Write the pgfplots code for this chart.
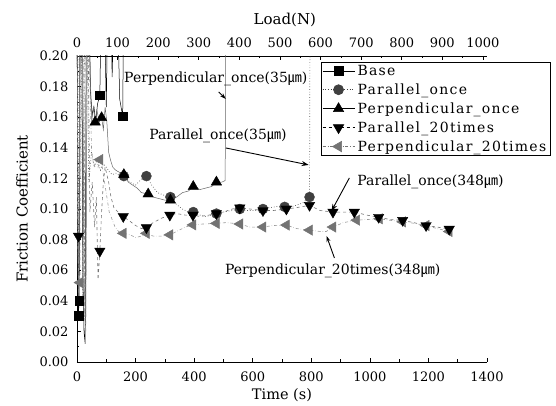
\documentclass[border=0pt]{standalone}
\usepackage{pgfplots}
\pgfplotsset{compat=1.18}
\usepackage{fontspec}
\setmainfont{DejaVu Serif}
\newfontfamily\cjk{Noto Sans CJK KR}
\newfontfamily\legfont[LetterSpace=9]{DejaVu Serif}
\usetikzlibrary{arrows.meta}
\newcommand{\um}{{\cjk ㎛}}
\newcommand{\fs}{\fontsize{14}{15}\selectfont}
\newcommand{\ts}{\fontsize{13}{14}\selectfont}

\pgfplotsset{
  lBase/.style={black, line width=0.5pt},
  lParO/.style={black!65, dotted, line width=0.7pt},
  lPerO/.style={black!60, line width=0.5pt},
  lPar20/.style={black!55, dashed, line width=0.6pt},
  lPer20/.style={black!40, dash dot, line width=0.6pt},
  mBase/.style={black, mark=square*, mark size=4.3pt, mark options={solid, fill=black}},
  mParO/.style={black!75, mark=*, mark size=5pt, mark options={solid, fill=black!75}},
  mPerO/.style={black, mark=triangle*, mark size=6pt, mark options={solid, fill=black}},
  mPar20/.style={black, mark=triangle*, mark size=6pt, mark options={solid, fill=black, rotate=180}},
  mPer20/.style={black!55, mark=triangle*, mark size=6pt, mark options={solid, fill=black!55, rotate=90}},
}

\begin{document}
\begin{tikzpicture}
\path[use as bounding box] (-77pt,-44pt) rectangle (479pt,362pt);
% top (Load) axis
\begin{axis}[
  at={(0,0)}, anchor=south west,
  scale only axis, width=410pt, height=306pt,
  xmin=0, xmax=1010, ymin=0, ymax=0.2,
  axis x line*=top, axis y line=none,
  xtick={0,100,...,1000}, minor x tick num=1,
  tick align=inside, major tick length=4pt, minor tick length=2.5pt,
  tick style={black, line width=0.6pt},
  axis line style={line width=0.8pt},
  tick label style={font=\ts},
  xticklabel style={yshift=5pt},
  /pgf/number format/assume math mode=true,
  /pgf/number format/1000 sep={},
  xlabel={Load(N)},
  xlabel style={font=\fontsize{15}{16}\selectfont, at={(axis description cs:0.507,1.118)}, anchor=center},
]
\end{axis}
\begin{axis}[
  at={(0,0)}, anchor=south west,
  scale only axis, width=410pt, height=306pt,
  xmin=0, xmax=1400, ymin=0, ymax=0.2,
  axis x line*=bottom, axis y line*=left,
  xtick={0,200,...,1400},
  ytick={0,0.02,0.04,0.06,0.08,0.1,0.12,0.14,0.16,0.18,0.2},
  minor x tick num=1, minor y tick num=1,
  tick align=inside, major tick length=4pt, minor tick length=2.5pt,
  tick style={black, line width=0.6pt},
  axis line style={line width=0.8pt},
  tick label style={font=\ts},
  xticklabel style={yshift=-6pt},
  /pgf/number format/assume math mode=true,
  /pgf/number format/1000 sep={},
  yticklabel style={xshift=-5pt, /pgf/number format/.cd, fixed, fixed zerofill, precision=2},
  xlabel={Time (s)}, ylabel={Friction Coefficient},
  label style={font=\fontsize{15}{16}\selectfont},
  xlabel style={font=\fontsize{14.5}{15}\selectfont, at={(axis description cs:0.5,-0.108)}, anchor=center},
  ylabel style={at={(axis description cs:-0.134,0.5)}, anchor=center},
  clip mode=individual,
  legend style={at={(axis description cs:0.595,0.981)}, anchor=north west,
    draw=black, line width=0.5pt, fill=white, font=\legfont\fontsize{14}{15}\selectfont,
    inner xsep=1pt, inner ysep=0.5pt, row sep=1.6pt, nodes={inner sep=2.6pt}},
  legend cell align=left,
  legend image code/.code={\draw[mark repeat=2,mark phase=2,#1] plot coordinates {(0pt,0pt)(16pt,0pt)(32pt,0pt)};},
]
% ---- lines ----
\addplot[lBase, forget plot] coordinates {(0,0.25)(3,0.049)(5,0.0304)(7,0.0402)(9,0.0882)(11,0.25)(16,0.25)(20,0.0588)(24,0.0196)(28,0.0118)(32,0.25)(40,0.25)(46,0.1764)(52,0.1617)(58,0.1666)(64,0.1568)(70,0.1686)(78,0.1744)(84,0.25)(92,0.25)(100,0.1666)(106,0.25)(114,0.25)(120,0.1862)(128,0.25)(136,0.25)(146,0.1715)(156,0.1607)(160,0.25)};
\addplot[lPerO, forget plot] coordinates {(0,0.25)(3,0.0686)(6,0.0392)(10,0.25)(18,0.25)(24,0.049)(30,0.0294)(36,0.25)(44,0.196)(50,0.1568)(56,0.1666)(62,0.1568)(68,0.1646)(76,0.1568)(84,0.1597)(90,0.1519)(96,0.1666)(102,0.1568)(108,0.1372)(114,0.1323)(122,0.1274)(132,0.1254)(140,0.1245)(150,0.1235)(160,0.1225)(175,0.1176)(190,0.1156)(205,0.1137)(220,0.1107)(243,0.1098)(260,0.1078)(280,0.1068)(300,0.1058)(319,0.1058)(340,0.1078)(360,0.1107)(380,0.1117)(397,0.1147)(420,0.1127)(440,0.1137)(460,0.1147)(476,0.1176)(495,0.1176)(506,0.1186)(508,0.25)};
\addplot[lParO, forget plot] coordinates {(0,0.25)(4,0.0588)(8,0.25)(14,0.25)(20,0.0392)(26,0.25)(34,0.25)(40,0.1176)(50,0.1372)(60,0.1274)(70,0.1323)(80,0.1254)(90,0.1294)(100,0.1274)(110,0.1245)(120,0.1225)(135,0.1235)(148,0.1215)(160,0.1215)(180,0.1176)(200,0.1156)(220,0.1196)(237,0.1215)(255,0.1156)(275,0.1107)(300,0.1088)(319,0.1078)(340,0.1029)(360,0.1)(380,0.098)(397,0.098)(420,0.096)(440,0.0951)(460,0.096)(476,0.097)(500,0.098)(530,0.099)(556,0.1)(580,0.099)(610,0.099)(635,0.1)(660,0.1009)(690,0.1019)(709,0.1014)(740,0.1019)(770,0.1039)(794,0.1078)(796,0.25)};
\addplot[lPar20, forget plot] coordinates {(0,0.25)(3,0.0882)(5,0.0823)(7,0.0686)(9,0.25)(15,0.25)(20,0.049)(25,0.0294)(28,0.25)(36,0.25)(44,0.098)(52,0.1176)(60,0.0882)(66,0.1078)(72,0.0539)(78,0.0725)(84,0.098)(90,0.1176)(96,0.1274)(102,0.1225)(108,0.1176)(116,0.1078)(126,0.1009)(140,0.098)(158,0.0951)(180,0.0921)(200,0.0892)(220,0.0872)(237,0.0878)(260,0.0911)(290,0.0941)(317,0.096)(340,0.097)(370,0.096)(396,0.096)(420,0.0951)(450,0.096)(476,0.097)(500,0.098)(530,0.1)(556,0.1007)(590,0.1)(635,0.099)(670,0.099)(715,0.1)(750,0.1009)(794,0.1024)(830,0.099)(874,0.098)(910,0.098)(947,0.098)(990,0.096)(1030,0.0946)(1070,0.0931)(1112,0.0926)(1150,0.0911)(1192,0.0892)(1230,0.0882)(1271,0.0868)};
\addplot[lPer20, forget plot] coordinates {(0,0.25)(3,0.0784)(6,0.0539)(10,0.0519)(14,0.25)(22,0.25)(26,0.0294)(30,0.0196)(34,0.25)(42,0.196)(50,0.1372)(58,0.1274)(66,0.1323)(72,0.1274)(78,0.1323)(86,0.1274)(94,0.1176)(102,0.1078)(110,0.098)(120,0.0931)(130,0.0882)(142,0.0853)(158,0.0841)(180,0.0833)(200,0.0813)(220,0.0823)(237,0.0841)(260,0.0823)(290,0.0823)(317,0.0831)(340,0.0853)(370,0.0882)(396,0.0896)(430,0.0902)(476,0.0906)(510,0.0911)(556,0.0902)(590,0.0882)(635,0.0882)(670,0.0892)(715,0.0895)(750,0.0872)(794,0.0862)(830,0.0853)(851,0.0853)(874,0.0882)(910,0.0911)(955,0.0927)(990,0.0931)(1033,0.0936)(1070,0.0926)(1112,0.0916)(1150,0.0907)(1192,0.0892)(1230,0.0872)(1271,0.0853)};
% ---- marks ----
\addplot[mPer20, only marks, forget plot] coordinates {(10,0.0519)(78,0.1323)(158,0.0841)(237,0.0841)(317,0.0831)(396,0.0896)(476,0.0906)(556,0.0902)(635,0.0882)(715,0.0895)(794,0.0862)(874,0.0882)(955,0.0927)(1033,0.0936)(1112,0.0916)(1192,0.0892)(1271,0.0853)};
\addplot[mParO, only marks, forget plot] coordinates {(160,0.1215)(237,0.1215)(319,0.1078)(397,0.098)(476,0.097)(556,0.1)(635,0.1)(709,0.1014)(794,0.1078)};
\addplot[mPar20, only marks, forget plot] coordinates {(5,0.0823)(78,0.0725)(158,0.0951)(237,0.0878)(317,0.096)(396,0.096)(476,0.097)(556,0.1007)(635,0.099)(715,0.1)(794,0.1024)(874,0.098)(947,0.098)(1030,0.0946)(1112,0.0926)(1192,0.0892)(1271,0.0868)};
\addplot[mPerO, only marks, forget plot] coordinates {(62,0.1568)(84,0.1597)(160,0.1225)(243,0.1098)(319,0.1058)(397,0.1147)(476,0.1176)};
\addplot[mBase, only marks, forget plot] coordinates {(5,0.0304)(7,0.0402)(78,0.1744)(156,0.1607)};
% ---- legend ----
\addlegendimage{lBase, mBase}
\addlegendentry{Base}
\addlegendimage{lParO, mParO}
\addlegendentry{Parallel\_once}
\addlegendimage{lPerO, mPerO}
\addlegendentry{Perpendicular\_once}
\addlegendimage{lPar20, mPar20}
\addlegendentry{Parallel\_20times}
\addlegendimage{lPer20, mPer20}
\addlegendentry{Perpendicular\_20times}
% ---- annotations ----
\node[font=\fs] at (axis cs:474,0.185) {Perpendicular\_once(35\um)};
\draw[-{Stealth[length=6pt,width=4pt]}, line width=0.8pt] (axis cs:484,0.1765) -- (axis cs:508,0.1719);
\node[font=\fs] at (axis cs:481,0.1477) {Parallel\_once(35\um)};
\draw[-{Stealth[length=7pt,width=5pt]}, line width=0.9pt] (axis cs:508,0.1399) -- (axis cs:791,0.1288);
\node[font=\fs] at (axis cs:1207,0.1176) {Parallel\_once(348\um)};
\draw[-{Stealth[length=7pt,width=5pt]}, line width=0.9pt] (axis cs:930,0.1203) -- (axis cs:869,0.0987);
\node[font=\fs] at (axis cs:873,0.0595) {Perpendicular\_20times(348\um)};
\draw[-{Stealth[length=6pt,width=4pt]}, line width=0.9pt] (axis cs:879,0.068) -- (axis cs:852,0.0824);
\end{axis}
\end{tikzpicture}
\end{document}
